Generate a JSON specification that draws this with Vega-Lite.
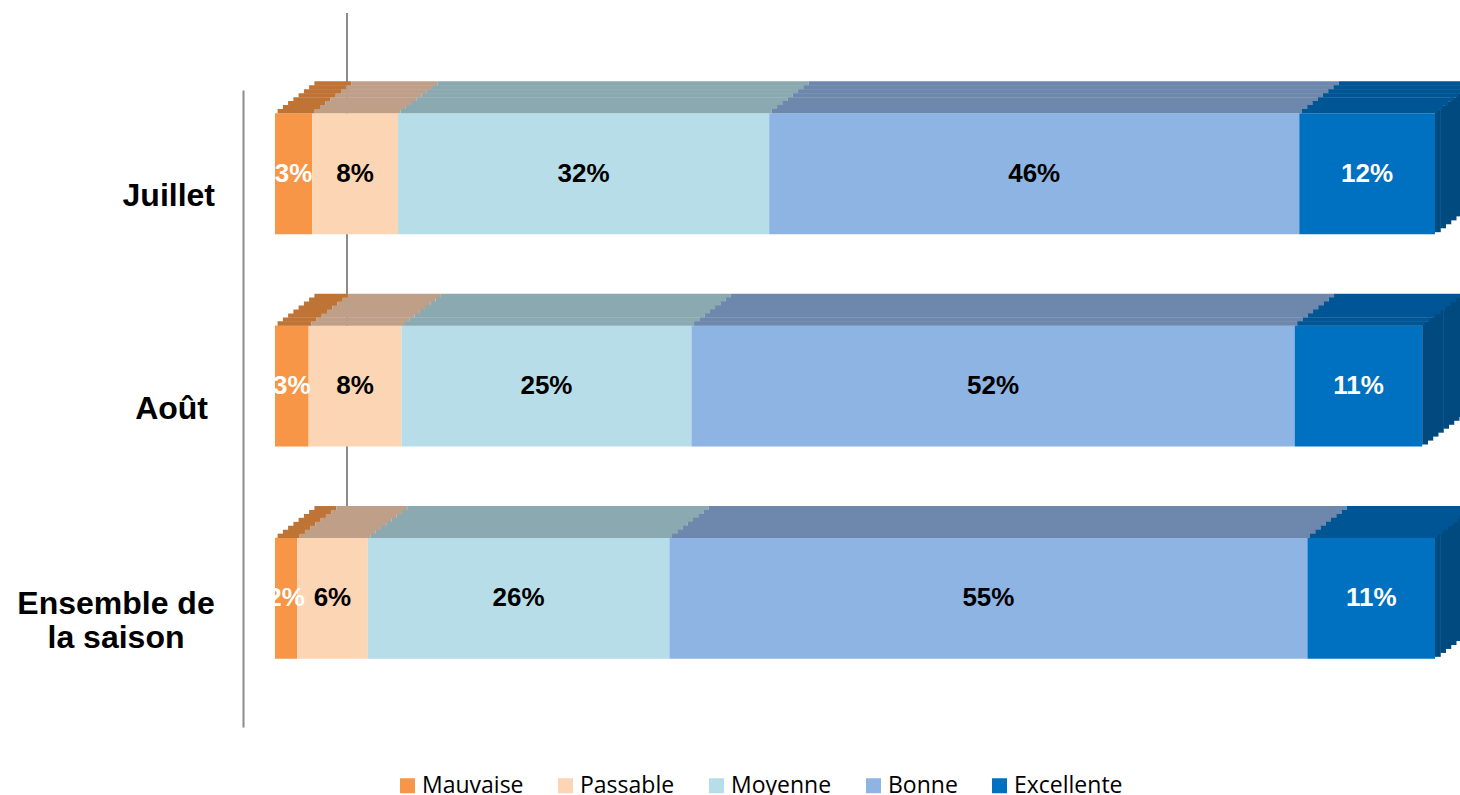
{
  "$schema": "https://vega.github.io/schema/vega-lite/v6.json",
  "width": 1160,
  "height": 637,
  "autosize": {"type": "none"},
  "padding": {"left": 275, "top": 90, "right": 25, "bottom": 68},
  "background": "white",
  "config": {"view": {"stroke": null}, "axis": {"grid": false}},
  "data": {
    "values": [
      {"period": "Juillet", "rating": "Mauvaise", "ord": 1, "value": 3.2, "label": "3%"},
      {"period": "Juillet", "rating": "Passable", "ord": 2, "value": 7.4, "label": "8%"},
      {"period": "Juillet", "rating": "Moyenne", "ord": 3, "value": 32.0, "label": "32%"},
      {"period": "Juillet", "rating": "Bonne", "ord": 4, "value": 45.7, "label": "46%"},
      {"period": "Juillet", "rating": "Excellente", "ord": 5, "value": 11.7, "label": "12%"},
      {"period": "Août", "rating": "Mauvaise", "ord": 1, "value": 2.9, "label": "3%"},
      {"period": "Août", "rating": "Passable", "ord": 2, "value": 8.0, "label": "8%"},
      {"period": "Août", "rating": "Moyenne", "ord": 3, "value": 25.0, "label": "25%"},
      {"period": "Août", "rating": "Bonne", "ord": 4, "value": 52.0, "label": "52%"},
      {"period": "Août", "rating": "Excellente", "ord": 5, "value": 11.0, "label": "11%"},
      {"period": "Ensemble de la saison", "rating": "Mauvaise", "ord": 1, "value": 1.9, "label": "2%"},
      {"period": "Ensemble de la saison", "rating": "Passable", "ord": 2, "value": 6.1, "label": "6%"},
      {"period": "Ensemble de la saison", "rating": "Moyenne", "ord": 3, "value": 26.0, "label": "26%"},
      {"period": "Ensemble de la saison", "rating": "Bonne", "ord": 4, "value": 55.0, "label": "55%"},
      {"period": "Ensemble de la saison", "rating": "Excellente", "ord": 5, "value": 11.0, "label": "11%"}
    ]
  },
  "transform": [
    {"stack": "value", "groupby": ["period"], "sort": [{"field": "ord", "order": "ascending"}], "as": ["x0", "x1"]}
  ],
  "resolve": {"axis": {"y": "independent"}},
  "encoding": {
    "y": {"field": "period", "type": "nominal", "sort": ["Juillet", "Août", "Ensemble de la saison"], "scale": {"paddingInner": 0.43, "paddingOuter": 0.215}, "axis": null}
  },
  "layer": [
    {
      "mark": {"type": "bar", "yOffset": -22.5},
      "encoding": {
        "y": {"field": "period", "type": "nominal", "sort": ["Juillet", "Août", "Ensemble de la saison"], "scale": {"paddingInner": 0.43, "paddingOuter": 0.215},
          "axis": {"orient": "left", "title": null, "offset": 32, "ticks": false, "labels": false, "domainColor": "#8c8c8c", "domainWidth": 2, "zindex": 0}},
        "x": {"field": "x0", "type": "quantitative", "scale": {"domain": [0, 100], "nice": false, "zero": true}, "axis": null},
        "x2": {"field": "x1"},
        "color": {"field": "rating", "type": "nominal",
          "scale": {"domain": ["Mauvaise", "Passable", "Moyenne", "Bonne", "Excellente"], "range": ["#F79646", "#FCD5B5", "#B7DEE8", "#8EB4E3", "#0070C0"]},
          "legend": {"orient": "none", "legendX": 121, "legendY": 684, "direction": "horizontal", "title": null, "symbolType": "square", "symbolSize": 225, "symbolStrokeWidth": 0, "labelFont": "Open Sans", "labelFontSize": 23, "labelColor": "#000000", "labelOffset": 3, "columnPadding": 30, "padding": 0}}
      }
    },
    {
      "transform": [{"filter": "datum.rating == 'Excellente'"}],
      "mark": {"type": "bar", "color": "#004A7F", "height": 123, "xOffset": 0, "x2Offset": 5.75, "yOffset": -25.5},
      "encoding": {"x": {"field": "x1", "type": "quantitative", "axis": null}, "x2": {"field": "x1"}}
    },
    {
      "transform": [{"filter": "datum.rating == 'Excellente'"}],
      "mark": {"type": "bar", "color": "#004A7F", "height": 123, "xOffset": 5.25, "x2Offset": 11.0, "yOffset": -29.4},
      "encoding": {"x": {"field": "x1", "type": "quantitative", "axis": null}, "x2": {"field": "x1"}}
    },
    {
      "transform": [{"filter": "datum.rating == 'Excellente'"}],
      "mark": {"type": "bar", "color": "#004A7F", "height": 123, "xOffset": 10.5, "x2Offset": 16.25, "yOffset": -33.4},
      "encoding": {"x": {"field": "x1", "type": "quantitative", "axis": null}, "x2": {"field": "x1"}}
    },
    {
      "transform": [{"filter": "datum.rating == 'Excellente'"}],
      "mark": {"type": "bar", "color": "#004A7F", "height": 123, "xOffset": 15.75, "x2Offset": 21.5, "yOffset": -37.3},
      "encoding": {"x": {"field": "x1", "type": "quantitative", "axis": null}, "x2": {"field": "x1"}}
    },
    {
      "transform": [{"filter": "datum.rating == 'Excellente'"}],
      "mark": {"type": "bar", "color": "#004A7F", "height": 123, "xOffset": 21.0, "x2Offset": 26.75, "yOffset": -41.3},
      "encoding": {"x": {"field": "x1", "type": "quantitative", "axis": null}, "x2": {"field": "x1"}}
    },
    {
      "transform": [{"filter": "datum.rating == 'Excellente'"}],
      "mark": {"type": "bar", "color": "#004A7F", "height": 123, "xOffset": 26.25, "x2Offset": 32.0, "yOffset": -45.2},
      "encoding": {"x": {"field": "x1", "type": "quantitative", "axis": null}, "x2": {"field": "x1"}}
    },
    {
      "transform": [{"filter": "datum.rating == 'Excellente'"}],
      "mark": {"type": "bar", "color": "#004A7F", "height": 123, "xOffset": 31.5, "x2Offset": 37.25, "yOffset": -49.2},
      "encoding": {"x": {"field": "x1", "type": "quantitative", "axis": null}, "x2": {"field": "x1"}}
    },
    {
      "transform": [{"filter": "datum.rating == 'Excellente'"}],
      "mark": {"type": "bar", "color": "#004A7F", "height": 123, "xOffset": 36.75, "x2Offset": 42.5, "yOffset": -53.1},
      "encoding": {"x": {"field": "x1", "type": "quantitative", "axis": null}, "x2": {"field": "x1"}}
    },
    {
      "mark": {"type": "bar", "height": 4.4, "xOffset": 39.4, "x2Offset": 39.4, "yOffset": -112.6},
      "encoding": {"x": {"field": "x0", "type": "quantitative", "axis": null}, "x2": {"field": "x1"},
        "fill": {"field": "rating", "type": "nominal", "scale": {"domain": ["Mauvaise", "Passable", "Moyenne", "Bonne", "Excellente"], "range": ["#BF7436", "#BF9F88", "#8BA9B0", "#6E88AD", "#005595"]}, "legend": null}}
    },
    {
      "mark": {"type": "bar", "height": 4.4, "xOffset": 34.1, "x2Offset": 34.1, "yOffset": -108.7},
      "encoding": {"x": {"field": "x0", "type": "quantitative", "axis": null}, "x2": {"field": "x1"},
        "fill": {"field": "rating", "type": "nominal", "legend": null}}
    },
    {
      "mark": {"type": "bar", "height": 4.4, "xOffset": 28.9, "x2Offset": 28.9, "yOffset": -104.7},
      "encoding": {"x": {"field": "x0", "type": "quantitative", "axis": null}, "x2": {"field": "x1"},
        "fill": {"field": "rating", "type": "nominal", "legend": null}}
    },
    {
      "mark": {"type": "bar", "height": 4.4, "xOffset": 23.6, "x2Offset": 23.6, "yOffset": -100.8},
      "encoding": {"x": {"field": "x0", "type": "quantitative", "axis": null}, "x2": {"field": "x1"},
        "fill": {"field": "rating", "type": "nominal", "legend": null}}
    },
    {
      "mark": {"type": "bar", "height": 4.4, "xOffset": 18.4, "x2Offset": 18.4, "yOffset": -96.8},
      "encoding": {"x": {"field": "x0", "type": "quantitative", "axis": null}, "x2": {"field": "x1"},
        "fill": {"field": "rating", "type": "nominal", "legend": null}}
    },
    {
      "mark": {"type": "bar", "height": 4.4, "xOffset": 13.1, "x2Offset": 13.1, "yOffset": -92.9},
      "encoding": {"x": {"field": "x0", "type": "quantitative", "axis": null}, "x2": {"field": "x1"},
        "fill": {"field": "rating", "type": "nominal", "legend": null}}
    },
    {
      "mark": {"type": "bar", "height": 4.4, "xOffset": 7.9, "x2Offset": 7.9, "yOffset": -88.9},
      "encoding": {"x": {"field": "x0", "type": "quantitative", "axis": null}, "x2": {"field": "x1"},
        "fill": {"field": "rating", "type": "nominal", "legend": null}}
    },
    {
      "mark": {"type": "bar", "height": 4.4, "xOffset": 2.6, "x2Offset": 2.6, "yOffset": -85.0},
      "encoding": {
        "y": {"field": "period", "type": "nominal", "sort": ["Juillet", "Août", "Ensemble de la saison"], "scale": {"paddingInner": 0.43, "paddingOuter": 0.215},
          "axis": {"orient": "left", "title": null, "offset": -149, "translate": -77, "labels": false, "ticks": false, "domainColor": "#8c8c8c", "domainWidth": 2, "zindex": 0}},
        "x": {"field": "x0", "type": "quantitative", "axis": null}, "x2": {"field": "x1"},
        "fill": {"field": "rating", "type": "nominal", "legend": null}}
    },
    {
      "transform": [
        {"fold": ["x0", "x1"], "as": ["edge", "pos"]},
        {"aggregate": [{"op": "mean", "field": "pos", "as": "mid"}], "groupby": ["period", "rating", "label"]}
      ],
      "mark": {"type": "text", "font": "Liberation Sans", "fontWeight": "bold", "fontSize": 26, "align": "center", "baseline": "middle", "dy": -22.5},
      "encoding": {
        "x": {"field": "mid", "type": "quantitative", "axis": null},
        "text": {"field": "label", "type": "nominal"},
        "color": {"condition": {"test": "datum.rating == 'Mauvaise' || datum.rating == 'Excellente'", "value": "#FFFFFF"}, "value": "#000000"}
      }
    },
    {
      "transform": [{"filter": "datum.period == 'Juillet' && datum.ord == 1"}],
      "mark": {"type": "text", "font": "Liberation Sans", "fontWeight": "bold", "fontSize": 32, "align": "right", "baseline": "middle", "dx": -60, "color": "#000000"},
      "encoding": {"x": {"datum": 0, "type": "quantitative", "axis": null}, "text": {"field": "period", "type": "nominal"}}
    },
    {
      "transform": [{"filter": "datum.period == 'Août' && datum.ord == 1"}],
      "mark": {"type": "text", "font": "Liberation Sans", "fontWeight": "bold", "fontSize": 32, "align": "right", "baseline": "middle", "dx": -67, "color": "#000000"},
      "encoding": {"x": {"datum": 0, "type": "quantitative", "axis": null}, "text": {"field": "period", "type": "nominal"}}
    },
    {
      "transform": [{"filter": "datum.period == 'Ensemble de la saison' && datum.ord == 1"}],
      "mark": {"type": "text", "font": "Liberation Sans", "fontWeight": "bold", "fontSize": 32, "align": "center", "baseline": "middle", "dx": -159, "dy": -17, "lineHeight": 34, "color": "#000000"},
      "encoding": {"x": {"datum": 0, "type": "quantitative", "axis": null}, "text": {"value": ["Ensemble de", "la saison"]}}
    }
  ]
}
